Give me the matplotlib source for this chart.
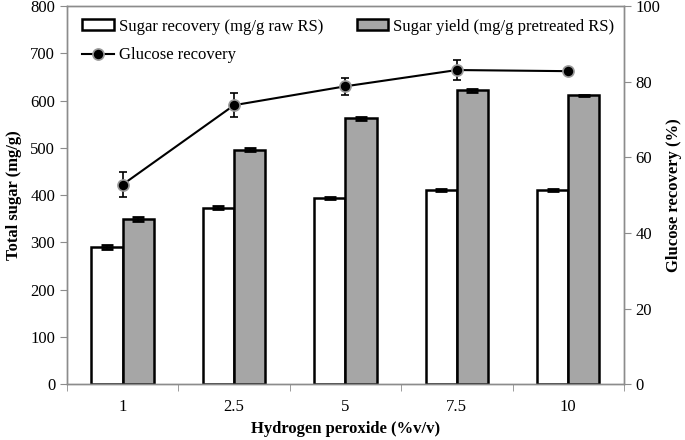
import matplotlib
matplotlib.use("Agg")
import matplotlib.pyplot as plt
from matplotlib.lines import Line2D
import numpy as np

categories = ["1", "2.5", "5", "7.5", "10"]
sugar_recovery = [290, 373, 394, 411, 410]
sugar_recovery_err = [4, 3, 3, 3, 2]
sugar_yield = [349, 496, 563, 622, 611]
sugar_yield_err = [4, 3, 3, 3, 2]
glucose_recovery = [52.8, 73.8, 78.8, 83.1, 82.8]
glucose_recovery_err = [3.4, 3.1, 2.3, 2.6, 0.5]

plt.rcParams['font.family'] = ['Liberation Serif', 'DejaVu Serif']
plt.rcParams['font.size'] = 12

fig = plt.figure(figsize=(6.85, 4.4), dpi=100)
ax = fig.add_axes([0.0978, 0.127, 0.813, 0.859])
x = np.arange(len(categories))
w = 0.28
spine_col = '#8c8c8c'

b1 = ax.bar(x - w/2, sugar_recovery, w, color='white', edgecolor='black', linewidth=1.8,
       yerr=sugar_recovery_err, capsize=4, error_kw=dict(elinewidth=1.2, capthick=2, ecolor='black'),
       label='Sugar recovery (mg/g raw RS)', zorder=2)
b2 = ax.bar(x + w/2, sugar_yield, w, color='#a6a6a6', edgecolor='black', linewidth=1.8,
       yerr=sugar_yield_err, capsize=4, error_kw=dict(elinewidth=1.2, capthick=2, ecolor='black'),
       label='Sugar yield (mg/g pretreated RS)', zorder=2)

ax.set_xlim(-0.5, len(categories) - 0.5)
ax.set_ylim(0, 800)
ax.set_yticks(range(0, 801, 100))
ax.set_xticks(x)
ax.set_xticklabels(categories)
ax.set_xticks(np.arange(-0.5, len(categories), 1), minor=True)
ax.tick_params(axis='x', which='major', length=0, pad=11)
ax.tick_params(axis='x', which='minor', length=5, color=spine_col, direction='out')
ax.tick_params(axis='y', length=5, color=spine_col, direction='out')
ax.set_ylabel('Total sugar (mg/g)', fontweight='bold', labelpad=6)
ax.set_xlabel('Hydrogen peroxide (%v/v)', fontweight='bold', labelpad=4)

ax2 = ax.twinx()
ax2.errorbar(x, glucose_recovery, yerr=glucose_recovery_err, color='black', linewidth=1.5,
             marker='o', markersize=8, markerfacecolor='black', markeredgecolor='#9a9a9a',
             markeredgewidth=1.2, capsize=3, elinewidth=1.2, capthick=1.2, zorder=3)
ax2.set_ylim(0, 100)
ax2.set_yticks(range(0, 101, 20))
ax2.tick_params(axis='y', length=5, color=spine_col, direction='out')
ax2.set_ylabel('Glucose recovery (%)', fontweight='bold', labelpad=4)

for a in (ax, ax2):
    for s in a.spines.values():
        s.set_color(spine_col)
        s.set_linewidth(1.0)

line_handle = Line2D([], [], color='black', linewidth=1.5, marker='o', markersize=8,
                     markerfacecolor='black', markeredgecolor='#9a9a9a', markeredgewidth=1.2)
handles = [b1, line_handle, b2]
labels = ['Sugar recovery (mg/g raw RS)', 'Glucose recovery', 'Sugar yield (mg/g pretreated RS)']
leg = ax2.legend(handles, labels, ncol=2, loc='upper left', bbox_to_anchor=(0.005, 1.0),
                 frameon=False, handlelength=1.9, handleheight=0.6, columnspacing=2.0,
                 labelspacing=0.75, handletextpad=0.3, borderaxespad=0.35)

fig.savefig('out.png', dpi=100)
